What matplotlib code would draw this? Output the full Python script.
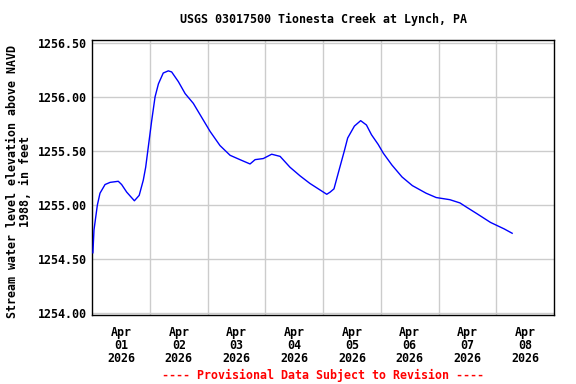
import matplotlib
matplotlib.use("Agg")
import matplotlib.pyplot as plt
import pandas as pd

# Data: hours since 2026-04-01 00:00 and water level (ft)
hours = [0.25, 0.7, 2.1, 3.2, 5.3, 7.4, 10.8, 12.2, 14.3, 17.5, 19.5, 21.2, 22.2,
         23.3, 24.7, 26.1, 27.5, 29.5, 31.6, 33.0, 35.8, 38.6, 42.0, 45.5, 49.0,
         53.1, 57.3, 61.4, 65.6, 67.7, 71.1, 74.6, 78.1, 82.2, 86.4, 90.5, 94.7,
         97.5, 98.9, 100.5, 102.7, 104.8, 106.2, 109.0, 111.6, 114.0, 116.1,
         118.9, 121.0, 124.6, 128.8, 133.1, 138.8, 143.0, 148.7, 152.9, 155.7,
         160.0, 165.6, 171.3, 174.6]
levels = [1254.56, 1254.77, 1255.00, 1255.11, 1255.19, 1255.21, 1255.22, 1255.19,
          1255.12, 1255.04, 1255.09, 1255.23, 1255.35, 1255.54, 1255.78, 1256.00,
          1256.12, 1256.22, 1256.24, 1256.23, 1256.14, 1256.03, 1255.94, 1255.81,
          1255.68, 1255.55, 1255.46, 1255.42, 1255.38, 1255.42, 1255.43, 1255.47,
          1255.45, 1255.35, 1255.27, 1255.20, 1255.14, 1255.10, 1255.12, 1255.15,
          1255.33, 1255.50, 1255.62, 1255.73, 1255.78, 1255.74, 1255.65, 1255.56,
          1255.48, 1255.37, 1255.26, 1255.18, 1255.11, 1255.07, 1255.05, 1255.02,
          1254.98, 1254.92, 1254.84, 1254.78, 1254.74]
y_ticks = [1254.00, 1254.50, 1255.00, 1255.50, 1256.00, 1256.50]
day_labels = ["Apr\n01\n2026", "Apr\n02\n2026", "Apr\n03\n2026", "Apr\n04\n2026",
              "Apr\n05\n2026", "Apr\n06\n2026", "Apr\n07\n2026", "Apr\n08\n2026"]

title = "USGS 03017500 Tionesta Creek at Lynch, PA"
ylabel = "Stream water level elevation above NAVD\n1988, in feet"
footer = "---- Provisional Data Subject to Revision ----"

start = pd.Timestamp("2026-04-01")
times = [start + pd.Timedelta(hours=h) for h in hours]

font = {"family": "DejaVu Sans Mono", "weight": "bold", "size": 8.4}

fig = plt.figure(figsize=(5.76, 3.84), dpi=100)
ax = fig.add_axes([92.3 / 576, 1 - 315 / 384, 461.7 / 576, 275 / 384])

ax.plot(times, levels, color="#0000ff", lw=1.0, zorder=3)

ax.set_xlim(start, start + pd.Timedelta(days=8))
ax.set_ylim(1253.985, 1256.525)

# major ticks at noon with labels, minor at midnight with grid
noon = [start + pd.Timedelta(days=i, hours=12) for i in range(8)]
midnight = [start + pd.Timedelta(days=i) for i in range(1, 8)]
ax.set_xticks(noon)
ax.set_xticklabels(day_labels, **font, linespacing=1.0)
ax.set_xticks(midnight, minor=True)
ax.set_yticks(y_ticks)
ax.set_yticklabels([f"{v:.2f}" for v in y_ticks], **font)

ax.tick_params(axis="both", which="both", length=0)
ax.tick_params(axis="x", pad=8)
ax.tick_params(axis="y", pad=4)
ax.grid(True, axis="x", which="minor", color="#cccccc", lw=1.0)
ax.grid(True, axis="y", which="major", color="#cccccc", lw=1.0)
ax.grid(False, axis="x", which="major")
for s in ax.spines.values():
    s.set_color("black")
    s.set_linewidth(1.0)

fig.text(323 / 576, 1 - 19 / 384, title, ha="center", va="center", **font)
fig.text(19 / 576, 1 - 181 / 384, ylabel, ha="center", va="center",
         rotation=90, linespacing=1.0, **font)
fig.text(323 / 576, 1 - 375 / 384, footer, ha="center", va="center",
         color="red", **font)

fig.savefig("out.png", dpi=100)
